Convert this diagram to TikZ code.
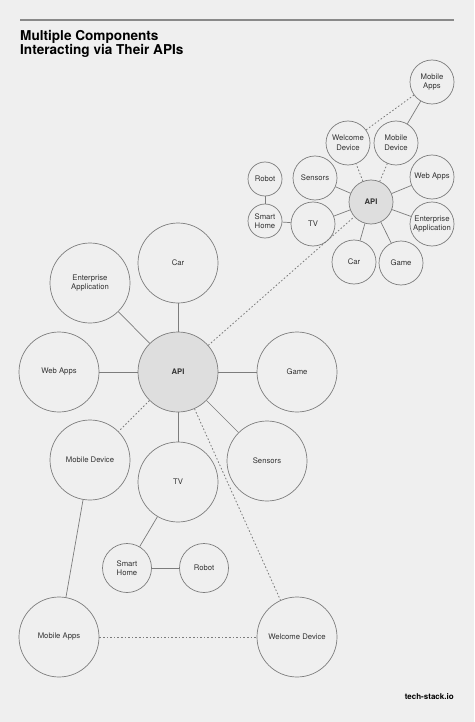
\documentclass[tikz,border=0pt]{standalone}
\usepackage{fontspec}
\setmainfont{TeX Gyre Heros}
\definecolor{paper}{HTML}{EFEFEF}
\definecolor{rim}{HTML}{7C7C7C}
\definecolor{apifill}{HTML}{DEDEDE}
\begin{document}
\begin{tikzpicture}[x=1pt, y=-1pt,
    bub/.style={circle, draw=rim, line width=0.7pt, inner sep=0pt, align=center,
                font=\fontsize{7.7}{9.5}\selectfont, text=black!80},
    hub/.style={bub, fill=apifill, font=\fontsize{7.7}{9.5}\selectfont\bfseries},
    big/.style={minimum size=80pt},
    mid/.style={minimum size=49pt},
    small/.style={minimum size=44pt},
    tiny/.style={minimum size=34pt},
    link/.style={draw=rim, line width=0.7pt},
    weak/.style={draw=rim, line width=0.8pt, dash pattern=on 1.6pt off 2pt}]
    % page
    \fill[paper] (0,0) rectangle (474,722);
    \useasboundingbox (0,0) rectangle (474,722);
    \draw[draw=rim!90, line width=1.3pt] (20,20) -- (454,20);
    \node[anchor=north west, align=left, inner sep=0pt,
          font=\fontsize{13.6}{13.8}\selectfont\bfseries] (title) at (20,30)
          {Multiple Components\\Interacting via Their APIs};
    \node[anchor=east, inner sep=0pt, font=\fontsize{8}{9}\selectfont\bfseries] (brand) at (454,697) {tech-stack.io};

    % big cluster
    \node[hub, big] (api) at (178,372) {API};
    \node[bub, big] (car) at (178,263) {Car};
    \node[bub, big] (ent) at (90,283) {Enterprise\\Application};
    \node[bub, big] (web) at (59,372) {Web Apps};
    \node[bub, big] (game) at (297,372) {Game};
    \node[bub, big] (mob) at (90,460) {Mobile Device};
    \node[bub, big] (tv) at (178,482) {TV};
    \node[bub, big] (sens) at (267,461) {Sensors};
    \node[bub, mid] (home) at (127,568) {Smart\\Home};
    \node[bub, mid] (robot) at (204,568) {Robot};
    \node[bub, big] (apps) at (59,637) {Mobile Apps};
    \node[bub, big] (wel) at (297,637) {Welcome Device};

    \foreach \n in {car, ent, web, game, tv, sens}
        \draw[link] (api) -- (\n);
    \draw[link] (tv) -- (home);
    \draw[link] (home) -- (robot);
    \draw[link] (mob) -- (apps);
    \draw[weak] (api) -- (mob);
    \draw[weak] (api) -- (wel);
    \draw[weak] (apps) -- (wel);

    % small cluster
    \node[hub, small] (sapi) at (371,202) {API};
    \node[bub, small] (swel) at (348,143) {Welcome\\Device};
    \node[bub, small] (smob) at (396,143) {Mobile\\Device};
    \node[bub, small] (sapps) at (432,82) {Mobile\\Apps};
    \node[bub, small] (ssens) at (315,178) {Sensors};
    \node[bub, small] (sweb) at (432,177) {Web Apps};
    \node[bub, small] (sent) at (432,224) {Enterprise\\Application};
    \node[bub, small] (stv) at (313,224) {TV};
    \node[bub, small] (scar) at (354,262) {Car};
    \node[bub, small] (sgame) at (401,263) {Game};
    \node[bub, tiny] (srobot) at (265,179) {Robot};
    \node[bub, tiny] (shome) at (265,221) {Smart\\Home};

    \foreach \n in {ssens, sweb, sent, stv, scar, sgame}
        \draw[link] (sapi) -- (\n);
    \draw[link] (smob) -- (sapps);
    \draw[link] (stv) -- (shome);
    \draw[link] (shome) -- (srobot);
    \draw[weak] (sapi) -- (swel);
    \draw[weak] (sapi) -- (smob);
    \draw[weak] (swel) -- (sapps);

    % between the two
    \draw[weak] (api) -- (sapi);
\end{tikzpicture}
\end{document}
